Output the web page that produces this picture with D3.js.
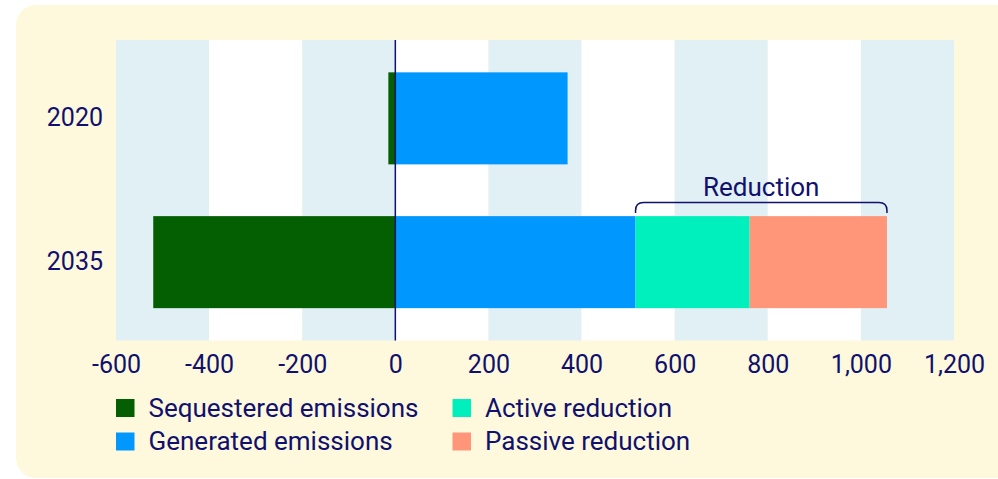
<!DOCTYPE html>
<html><head><meta charset="utf-8">
<script src="https://cdn.jsdelivr.net/npm/d3@7"></script>
<style>html,body{margin:0;padding:0;background:#fff;}svg{display:block;}</style>
</head><body>
<svg id="c" width="998" height="479"></svg>
<script>
const years = ["2020", "2035"];
const seriesNames = ["Sequestered emissions", "Generated emissions", "Active reduction", "Passive reduction"];
const sequestered = [-15, -520];
const generated = [370, 516];
const active = [0, 245];
const passive = [0, 295];
const xTicks = [-600, -400, -200, 0, 200, 400, 600, 800, 1000, 1200];
const colors = ["#035f02", "#0097ff", "#00f0bd", "#ff967a"];
const navy = "#10106e";
const font = "Roboto, 'Noto Sans', sans-serif";

const svg = d3.select("#c");
svg.append("rect").attr("x", 16).attr("y", 5).attr("width", 1010).attr("height", 473).attr("rx", 20).attr("fill", "#fef9dc");

const x = d3.scaleLinear().domain([-600, 1200]).range([116, 954]);
const y = d3.scaleBand().domain(years).range([40, 340.5]).paddingInner(0.36).paddingOuter(0.225);

// bands
const bandEdges = xTicks.slice(0, -1);
svg.append("g").selectAll("rect").data(bandEdges).join("rect")
  .attr("x", d => x(d)).attr("width", d => x(d + 200) - x(d))
  .attr("y", 40).attr("height", 300.5)
  .attr("fill", (d, i) => i % 2 === 0 ? "#e1f0f5" : "#ffffff");

// stacked bars
const rows = years.map((yr, i) => ({ year: yr, segs: [
  { s: 0, x0: sequestered[i], x1: 0 },
  { s: 1, x0: 0, x1: generated[i] },
  { s: 2, x0: generated[i], x1: generated[i] + active[i] },
  { s: 3, x0: generated[i] + active[i], x1: generated[i] + active[i] + passive[i] }
]}));
const g = svg.append("g");
rows.forEach(r => {
  g.selectAll(null).data(r.segs.filter(s => s.x1 !== s.x0)).join("rect")
    .attr("x", d => x(d.x0)).attr("width", d => x(d.x1) - x(d.x0))
    .attr("y", y(r.year)).attr("height", y.bandwidth())
    .attr("fill", d => colors[d.s]);
});

// zero line
svg.append("line").attr("x1", x(0)).attr("x2", x(0)).attr("y1", 40).attr("y2", 340.5)
  .attr("stroke", navy).attr("stroke-width", 1.5);

// x axis
const fmt = d3.format(",");
const xAxis = d3.axisBottom(x).tickValues(xTicks).tickSize(0).tickPadding(0)
  .tickFormat(d => fmt(d).replace("\u2212", "-"));
const xa = svg.append("g").attr("transform", "translate(0,355.5)").call(xAxis);
xa.select(".domain").remove();
xa.selectAll("text").attr("dy", "0.71em").attr("fill", navy)
  .style("font-family", font).style("font-size", "25px");

// y axis
const yAxis = d3.axisLeft(y).tickSize(0).tickPadding(0);
const ya = svg.append("g").attr("transform", "translate(103,0)").call(yAxis);
ya.select(".domain").remove();
ya.selectAll("text").attr("fill", navy).style("font-family", font).style("font-size", "25px");

// reduction bracket
const bx0 = x(generated[1]), bx1 = x(generated[1] + active[1] + passive[1]);
const by = 202.5, bb = 213, r = 8;
svg.append("path")
  .attr("d", `M${bx0},${bb} L${bx0},${by + r} Q${bx0},${by} ${bx0 + r},${by} L${bx1 - r},${by} Q${bx1},${by} ${bx1},${by + r} L${bx1},${bb}`)
  .attr("fill", "none").attr("stroke", navy).attr("stroke-width", 1.5);
svg.append("text").attr("x", (bx0 + bx1) / 2).attr("y", 195.5).attr("text-anchor", "middle")
  .attr("fill", navy).style("font-family", font).style("font-size", "26px").text("Reduction");

// legend
const legendPos = [[116, 399], [116, 432.5], [452.5, 399], [452.5, 432.5]];
const lg = svg.append("g");
seriesNames.forEach((n, i) => {
  const [lx, ly] = legendPos[i];
  lg.append("rect").attr("x", lx).attr("y", ly).attr("width", 18.5).attr("height", 18).attr("fill", colors[i]);
  lg.append("text").attr("x", lx + 32.5).attr("y", ly + 17.7).attr("fill", navy)
    .style("font-family", font).style("font-size", "26px").text(n);
});
</script>
</body></html>
